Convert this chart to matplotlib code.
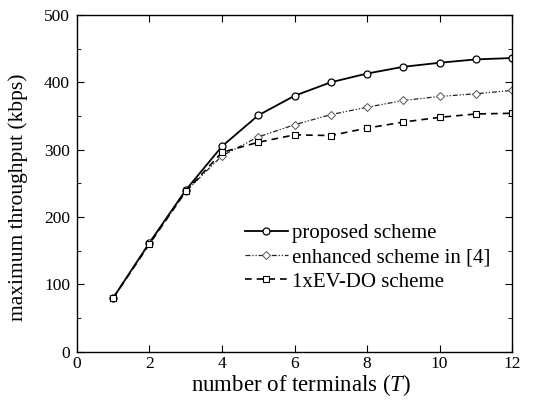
import matplotlib
matplotlib.use("Agg")
import matplotlib.pyplot as plt
from matplotlib.ticker import MultipleLocator

plt.rcParams['font.family'] = ['Liberation Serif', 'DejaVu Serif']
plt.rcParams['mathtext.fontset'] = 'custom'
plt.rcParams['mathtext.it'] = 'Liberation Serif:italic'
plt.rcParams['mathtext.rm'] = 'Liberation Serif'

terminals = [1, 2, 3, 4, 5, 6, 7, 8, 9, 10, 11, 12]
proposed = [80, 162, 240, 305, 351, 380, 400, 413, 423, 429, 434, 436]
enhanced = [80, 161, 238, 291, 319, 337, 352, 363, 373, 379, 383, 388]
evdo = [80, 160, 238, 296, 311, 322, 321, 332, 341, 348, 353, 354]
labels = ["proposed scheme", "enhanced scheme in [4]", "1xEV-DO scheme"]

fig = plt.figure(figsize=(5.38, 4.03), dpi=100)
ax = fig.add_axes([0.143, 0.127, 0.809, 0.836])

ax.plot(terminals, proposed, '-', color='black', lw=1.3, marker='o', ms=5,
        mfc='white', mec='black', mew=0.9, label=labels[0])
ax.plot(terminals, enhanced, '-.', color='#222222', lw=0.9, marker='D', ms=4.2,
        mfc='white', mec='#555555', mew=0.7, dashes=(4, 1.5, 1, 1.5, 1, 1.5), label=labels[1])
ax.plot(terminals, evdo, '--', color='black', lw=1.2, marker='s', ms=4.5,
        mfc='white', mec='black', mew=0.8, dashes=(4, 3), label=labels[2])

ax.set_xlim(0, 12)
ax.set_ylim(0, 500)
ax.xaxis.set_major_locator(MultipleLocator(2))
ax.yaxis.set_major_locator(MultipleLocator(100))
ax.yaxis.set_minor_locator(MultipleLocator(50))
ax.tick_params(which='both', direction='in', top=True, right=True, labelsize=12.5)
ax.tick_params(axis='x', which='major', pad=3)
ax.tick_params(axis='y', which='major', pad=5)
ax.tick_params(which='major', length=5)
ax.tick_params(which='minor', length=3)
for s in ax.spines.values():
    s.set_linewidth(1.0)

ax.set_xlabel("number of terminals ($T$)", fontsize=16.5)
ax.set_ylabel("maximum throughput (kbps)", fontsize=15.5)
ax.xaxis.set_label_coords(0.515, -0.061)
ax.yaxis.set_label_coords(-0.112, 0.46)

leg = ax.legend(loc='center left', bbox_to_anchor=(0.386, 0.279), frameon=False,
                fontsize=15, handlelength=2.05, handletextpad=0.2, labelspacing=0.22,
                borderaxespad=0, borderpad=0)

fig.savefig("out.png", dpi=100)
